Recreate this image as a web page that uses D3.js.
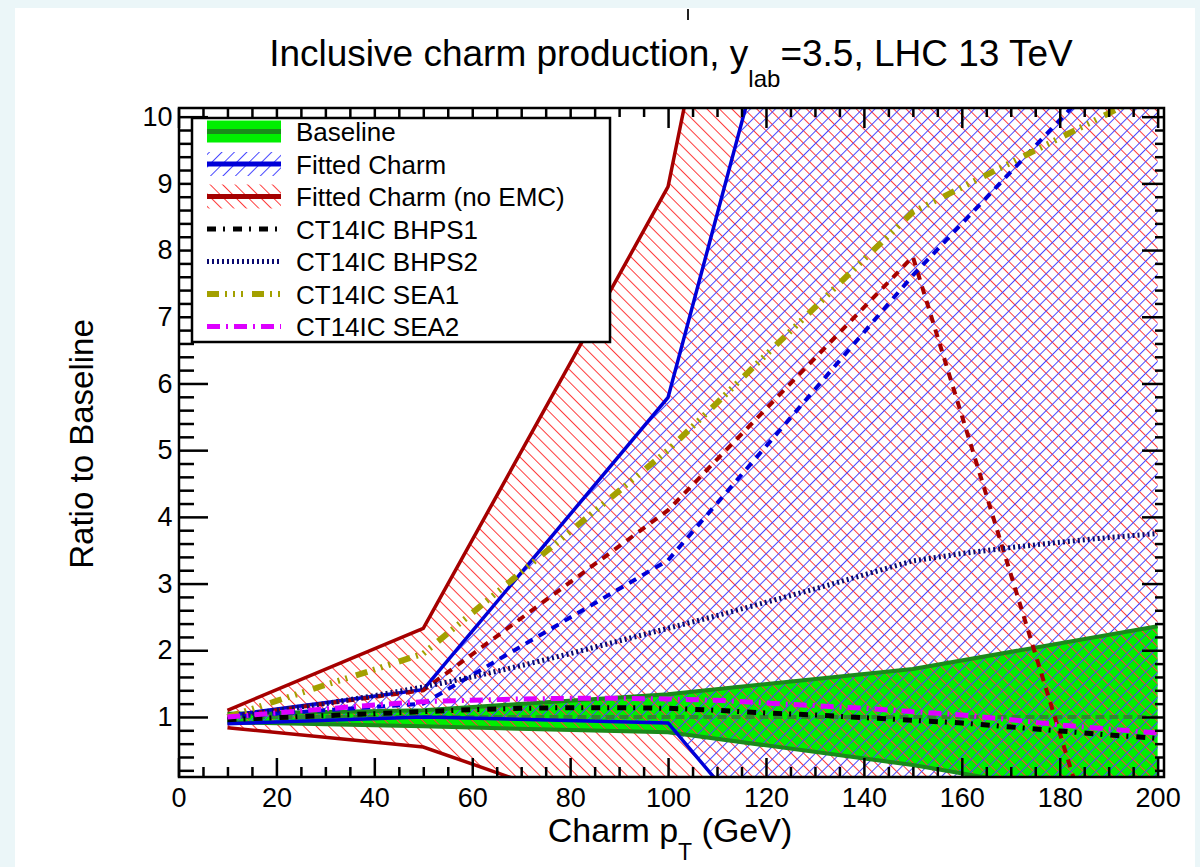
<!DOCTYPE html>
<html>
<head>
<meta charset="utf-8">
<script src="https://cdn.jsdelivr.net/npm/d3@7"></script>
<style>
  html, body { margin: 0; padding: 0; background: #ebf6f8; }
  svg { display: block; font-family: "Liberation Sans", Arial, Helvetica, sans-serif; }
</style>
</head>
<body>
<svg id="chart" width="1200" height="867"></svg>
<script>
// ---- data: ratio to baseline vs charm pT ----
const ptBand = [10, 50, 100, 150, 200];
const baselineLow  = [0.92, 0.86, 0.77, 0.28, -0.35];
const baselineHigh = [1.05, 1.10, 1.34, 1.72, 2.36];
const fittedCentral = [1.00, 1.20, 3.35, 7.62, 11.5];
const fittedLow     = [0.90, 1.00, 0.91, -3.44, -7.8];
const fittedHigh    = [1.02, 1.41, 5.79, 19.5, 33.2];
const noEmcCentral = [1.00, 1.40, 4.10, 7.90, -4.0];
const noEmcLow     = [0.84, 0.55, -0.73, -2.0, -3.3];
const noEmcHigh    = [1.10, 2.33, 8.95, 27.0, 45.0];

const ptCurve = [10, 20, 30, 40, 50, 60, 70, 80, 90, 100, 110, 120, 130, 140, 150, 160, 170, 180, 190, 200];
const bhps1 = [0.96, 0.99, 1.02, 1.05, 1.08, 1.11, 1.13, 1.14, 1.14, 1.13, 1.10, 1.06, 1.03, 0.99, 0.95, 0.91, 0.85, 0.79, 0.73, 0.68];
const bhps2 = [1.00, 1.10, 1.20, 1.32, 1.45, 1.60, 1.77, 1.95, 2.14, 2.33, 2.52, 2.72, 2.92, 3.13, 3.34, 3.45, 3.54, 3.62, 3.69, 3.75];
const sea1  = [1.00, 1.24, 1.48, 1.71, 1.95, 2.56, 3.17, 3.78, 4.39, 5.00, 5.71, 6.43, 7.14, 7.86, 8.57, 8.94, 9.31, 9.68, 10.05, 10.42];
const sea2  = [1.00, 1.06, 1.12, 1.18, 1.23, 1.25, 1.27, 1.28, 1.28, 1.27, 1.25, 1.21, 1.17, 1.13, 1.08, 1.03, 0.96, 0.88, 0.82, 0.76];

const xMajorTicks = [0, 20, 40, 60, 80, 100, 120, 140, 160, 180, 200];
const yMajorTicks = [1, 2, 3, 4, 5, 6, 7, 8, 9, 10];
const legendLabels = ["Baseline", "Fitted Charm", "Fitted Charm (no EMC)", "CT14IC BHPS1", "CT14IC BHPS2", "CT14IC SEA1", "CT14IC SEA2"];

// ---- layout ----
const frame = { left: 179, top: 108, right: 1164, bottom: 777 };
const svg = d3.select("#chart");

svg.append("rect").attr("x", 15).attr("y", 8).attr("width", 1180).attr("height", 859).attr("fill", "#ffffff");
svg.append("line").attr("x1", 688).attr("x2", 688).attr("y1", 9).attr("y2", 20)
  .attr("stroke", "#222").attr("stroke-width", 2);

const x = d3.scaleLinear().domain([0, 201.3]).range([178.5, 1164]);
const y = d3.scaleLinear().domain([0.1, 10.13]).range([777, 108]);

const defs = svg.append("defs");
defs.append("clipPath").attr("id", "plotClip").append("rect")
  .attr("x", frame.left).attr("y", frame.top)
  .attr("width", frame.right - frame.left).attr("height", frame.bottom - frame.top);

function hatch(id, color, angle) {
  const p = defs.append("pattern").attr("id", id)
    .attr("patternUnits", "userSpaceOnUse")
    .attr("width", 8.8).attr("height", 8.8)
    .attr("patternTransform", `rotate(${angle})`);
  p.append("line").attr("x1", 0.5).attr("x2", 0.5).attr("y1", -1).attr("y2", 10)
    .attr("stroke", color).attr("stroke-width", 1);
}
hatch("hatchRed", "#ff3a3a", -45);
hatch("hatchBlue", "#4646ff", 45);

const zipBand = (lo, hi) => ptBand.map((p, i) => ({ p, lo: lo[i], hi: hi[i] }));
const zipLine = (xs, ys) => xs.map((p, i) => ({ p, v: ys[i] }));

const area = d3.area().x(d => x(d.p)).y0(d => y(d.lo)).y1(d => y(d.hi));
const line = d3.line().x(d => x(d.p)).y(d => y(d.v));

const plot = svg.append("g").attr("clip-path", "url(#plotClip)");

// baseline band
plot.append("path").datum(zipBand(baselineLow, baselineHigh)).attr("d", area).attr("fill", "#00ef00");
// hatched bands
plot.append("path").datum(zipBand(noEmcLow, noEmcHigh)).attr("d", area).attr("fill", "url(#hatchRed)");
plot.append("path").datum(zipBand(fittedLow, fittedHigh)).attr("d", area).attr("fill", "url(#hatchBlue)");

// baseline band edges and centre
const green = "#1a8a1a";
[baselineLow, baselineHigh].forEach(arr => {
  plot.append("path").datum(zipLine(ptBand, arr)).attr("d", line)
    .attr("fill", "none").attr("stroke", green).attr("stroke-width", 4);
});
plot.append("path").datum(zipLine(ptBand, ptBand.map(() => 1))).attr("d", line)
  .attr("fill", "none").attr("stroke", "#2e8b2e").attr("stroke-width", 4).attr("stroke-dasharray", "9 5");

// fitted charm (no EMC) edges + central
const darkRed = "#a50000", blue = "#0000d8";
[noEmcLow, noEmcHigh].forEach(arr => {
  plot.append("path").datum(zipLine(ptBand, arr)).attr("d", line)
    .attr("fill", "none").attr("stroke", darkRed).attr("stroke-width", 3.5);
});
[fittedLow, fittedHigh].forEach(arr => {
  plot.append("path").datum(zipLine(ptBand, arr)).attr("d", line)
    .attr("fill", "none").attr("stroke", blue).attr("stroke-width", 3.5);
});
plot.append("path").datum(zipLine(ptBand, noEmcCentral)).attr("d", line)
  .attr("fill", "none").attr("stroke", darkRed).attr("stroke-width", 4).attr("stroke-dasharray", "8 7");
plot.append("path").datum(zipLine(ptBand, fittedCentral)).attr("d", line)
  .attr("fill", "none").attr("stroke", blue).attr("stroke-width", 4).attr("stroke-dasharray", "8 7");

// CT14IC curves
const styles = {
  bhps1: { color: "#000000", width: 5, dash: "9 7 2 8" },
  bhps2: { color: "#0a0a70", width: 5, dash: "2 3" },
  sea1:  { color: "#a3a000", width: 6, dash: "12 6 2 6 2 6 2 9" },
  sea2:  { color: "#dd00ff", width: 5, dash: "13 6 2 6" }
};
[["bhps2", bhps2], ["sea1", sea1], ["bhps1", bhps1], ["sea2", sea2]].forEach(([k, arr]) => {
  const s = styles[k];
  plot.append("path").datum(zipLine(ptCurve, arr)).attr("d", line)
    .attr("fill", "none").attr("stroke", s.color).attr("stroke-width", s.width)
    .attr("stroke-dasharray", s.dash);
});

// ---- axes ----
const xMinor = d3.range(0, 201, 5).filter(v => v % 20 !== 0);
const yMinor = d3.range(0.2, 10.01, 0.2).map(v => +v.toFixed(1)).filter(v => Math.abs(v - Math.round(v)) > 1e-6);

function styleAxis(g, fs) {
  g.select(".domain").remove();
  g.selectAll(".tick line").attr("stroke", "#000").attr("stroke-width", 2.5);
  g.selectAll(".tick text").attr("fill", "#000").style("font-size", fs).style("font-family", '"Liberation Sans", Arial, sans-serif');
}
const axes = svg.append("g");
axes.append("g").attr("transform", `translate(0,${frame.bottom})`)
  .call(d3.axisBottom(x).tickValues(xMajorTicks).tickSize(-19).tickPadding(11).tickFormat(d3.format("d")))
  .call(g => styleAxis(g, "27px"));
axes.append("g").attr("transform", `translate(0,${frame.bottom})`)
  .call(d3.axisBottom(x).tickValues(xMinor).tickSize(-10).tickFormat(""))
  .call(g => styleAxis(g, "27px"));
axes.append("g").attr("transform", `translate(0,${frame.top})`)
  .call(d3.axisTop(x).tickValues(xMajorTicks).tickSize(-20).tickFormat(""))
  .call(g => styleAxis(g, "27px"));
axes.append("g").attr("transform", `translate(0,${frame.top})`)
  .call(d3.axisTop(x).tickValues(xMinor).tickSize(-9).tickFormat(""))
  .call(g => styleAxis(g, "27px"));
axes.append("g").attr("transform", `translate(${frame.left},0)`)
  .call(d3.axisLeft(y).tickValues(yMajorTicks).tickSize(-29).tickPadding(6.5).tickFormat(d3.format("d")))
  .call(g => styleAxis(g, "27px"));
axes.append("g").attr("transform", `translate(${frame.left},0)`)
  .call(d3.axisLeft(y).tickValues(yMinor).tickSize(-15).tickFormat(""))
  .call(g => styleAxis(g, "27px"));
axes.append("g").attr("transform", `translate(${frame.right},0)`)
  .call(d3.axisRight(y).tickValues(yMajorTicks).tickSize(-22).tickFormat(""))
  .call(g => styleAxis(g, "27px"));
axes.append("g").attr("transform", `translate(${frame.right},0)`)
  .call(d3.axisRight(y).tickValues(yMinor).tickSize(-9).tickFormat(""))
  .call(g => styleAxis(g, "27px"));

svg.append("rect").attr("x", frame.left).attr("y", frame.top)
  .attr("width", frame.right - frame.left).attr("height", frame.bottom - frame.top)
  .attr("fill", "none").attr("stroke", "#000").attr("stroke-width", 2.5);

// ---- legend ----
const lg = svg.append("g");
lg.append("rect").attr("x", 192).attr("y", 118).attr("width", 418).attr("height", 224)
  .attr("fill", "#fff").attr("stroke", "#000").attr("stroke-width", 2.5);
const rowY = i => 131.5 + 32.5 * i;
const sx0 = 207, sx1 = 281;
// Baseline
lg.append("rect").attr("x", sx0).attr("y", rowY(0) - 11).attr("width", sx1 - sx0).attr("height", 22).attr("fill", "#00ef00");
lg.append("line").attr("x1", sx0).attr("x2", sx1).attr("y1", rowY(0)).attr("y2", rowY(0)).attr("stroke", green).attr("stroke-width", 5);
// Fitted charm
lg.append("rect").attr("x", sx0).attr("y", rowY(1) - 12).attr("width", sx1 - sx0).attr("height", 24).attr("fill", "url(#hatchBlue)");
lg.append("line").attr("x1", sx0).attr("x2", sx1).attr("y1", rowY(1)).attr("y2", rowY(1)).attr("stroke", blue).attr("stroke-width", 5);
// Fitted charm no EMC
lg.append("rect").attr("x", sx0).attr("y", rowY(2) - 12).attr("width", sx1 - sx0).attr("height", 24).attr("fill", "url(#hatchRed)");
lg.append("line").attr("x1", sx0).attr("x2", sx1).attr("y1", rowY(2)).attr("y2", rowY(2)).attr("stroke", darkRed).attr("stroke-width", 5);
// CT14IC
["bhps1", "bhps2", "sea1", "sea2"].forEach((k, j) => {
  const s = styles[k];
  lg.append("line").attr("x1", sx0).attr("x2", sx1).attr("y1", rowY(3 + j)).attr("y2", rowY(3 + j))
    .attr("stroke", s.color).attr("stroke-width", s.width).attr("stroke-dasharray", s.dash);
});
legendLabels.forEach((t, i) => {
  lg.append("text").attr("x", 296).attr("y", rowY(i) + 9.5).style("font-size", "26px").attr("fill", "#000").text(t);
});

// ---- titles ----
const title = svg.append("text").attr("x", 671).attr("y", 66).attr("text-anchor", "middle")
  .style("font-size", "37px").attr("fill", "#000");
title.append("tspan").text("Inclusive charm production, y");
title.append("tspan").attr("dy", 21).style("font-size", "24px").text("lab");
title.append("tspan").attr("dy", -21).text("=3.5, LHC 13 TeV");

const xl = svg.append("text").attr("x", 670).attr("y", 842).attr("text-anchor", "middle")
  .style("font-size", "34px").attr("fill", "#000");
xl.append("tspan").text("Charm p");
xl.append("tspan").attr("dy", 18).style("font-size", "23px").text("T");
xl.append("tspan").attr("dy", -18).text(" (GeV)");

svg.append("text").attr("transform", "translate(93,444) rotate(-90)").attr("text-anchor", "middle")
  .style("font-size", "33px").attr("fill", "#000").text("Ratio to Baseline");
</script>
</body>
</html>
